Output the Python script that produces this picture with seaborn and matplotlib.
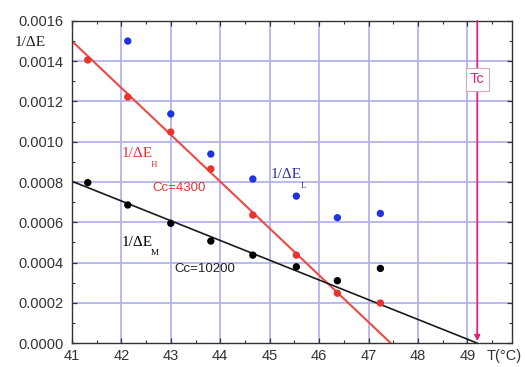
import numpy as np
import pandas as pd
import matplotlib
matplotlib.use("Agg")
import matplotlib.pyplot as plt
from matplotlib.ticker import MultipleLocator, FormatStrFormatter
import seaborn as sns

# Temperature of each measurement (°C)
temperature = [41.32, 42.13, 43.0, 43.81, 44.66, 45.54, 46.37, 47.24]

# Inverse dielectric peaks for the three modes
inv_eps_H = [0.001406, 0.001222, 0.001048, 0.000865, 0.000636, 0.000437, 0.000248, 0.000199]
inv_eps_M = [0.000797, 0.000686, 0.000595, 0.000507, 0.000437, 0.000379, 0.000310, 0.000371]
inv_eps_L = [None, 0.001500, 0.001138, 0.000939, 0.000815, 0.000730, 0.000623, 0.000644]

# Curie-Weiss fits: 1/eps = (T0 - T) / Cc
curie_H = 4300
t0_H = 47.45
curie_M = 10200
t0_M = 49.2
fit_start = 41.0

# Transition temperature
tc = 49.2

sns.set_style("ticks")
plt.rcParams["font.family"] = ["Liberation Sans", "DejaVu Sans"]

fig = plt.figure(figsize=(5.25, 3.67), dpi=100)
ax = fig.add_axes([0.137, 0.065, 0.838, 0.878])

grid_color = "#b4b4ee"
for gx in range(42, 50):
    ax.axvline(gx, color=grid_color, lw=1.3, zorder=0)
for gy in np.arange(0.0002, 0.0016, 0.0002):
    ax.axhline(gy, color=grid_color, lw=1.3, zorder=0)

df = pd.DataFrame({"T": temperature, "H": inv_eps_H, "M": inv_eps_M, "L": inv_eps_L})

fit_H = pd.DataFrame({"T": [fit_start, t0_H],
                      "y": [(t0_H - fit_start) / curie_H, 0.0]})
fit_M = pd.DataFrame({"T": [fit_start, t0_M],
                      "y": [(t0_M - fit_start) / curie_M, 0.0]})

red = "#e8332e"
sns.lineplot(data=fit_H, x="T", y="y", color="#ee4a44", lw=1.5, ax=ax, zorder=2)
sns.lineplot(data=fit_M, x="T", y="y", color="#1a1a1a", lw=1.2, ax=ax, zorder=2)

sns.scatterplot(data=df, x="T", y="H", color=red, s=28, edgecolor="none", ax=ax, zorder=3)
sns.scatterplot(data=df, x="T", y="M", color="black", s=28, edgecolor="none", ax=ax, zorder=3)
sns.scatterplot(data=df.dropna(), x="T", y="L", color="#2233dd", s=28, edgecolor="none",
                ax=ax, zorder=3)

# Tc marker: vertical arrow down to the axis
pink = "#e0207a"
ax.annotate("", xy=(tc, 0.00001), xytext=(tc, 0.0016),
            arrowprops=dict(arrowstyle="-|>", color=pink, lw=1.3,
                            mutation_scale=8, shrinkA=0, shrinkB=0), zorder=4)
ax.text(tc, 0.00131, "Tc", color=pink, fontsize=10.5, ha="center", va="center",
        bbox=dict(boxstyle="square,pad=0.3", fc="white", ec="#d8a8b8", lw=0.8), zorder=5)

serif = ["Liberation Serif", "DejaVu Serif"]
ax.text(42.0, 0.00094, "1/ΔE", color=red, fontsize=11, family=serif, va="center")
ax.text(42.6, 0.000905, "H", color=red, fontsize=6.5, family=serif, va="top")
ax.text(42.62, 0.00077, "Cc=4300", color=red, fontsize=9.5, va="center")

ax.text(45.02, 0.000835, "1/ΔE", color="#3030b0", fontsize=11, family=serif, va="center")
ax.text(45.62, 0.0008, "L", color="#3030b0", fontsize=6.5, family=serif, va="top")

ax.text(42.0, 0.0005, "1/ΔE", color="black", fontsize=11, family=serif, va="center")
ax.text(42.6, 0.000465, "M", color="black", fontsize=6.5, family=serif, va="top")
ax.text(43.08, 0.000368, "Cc=10200", color="#222222", fontsize=9.5, va="center")

ax.set_xlim(41, 49.9)
ax.set_ylim(0, 0.0016)
ax.set_xlabel("")
ax.set_ylabel("")
ax.xaxis.set_major_locator(MultipleLocator(1))
ax.xaxis.set_minor_locator(MultipleLocator(0.5))
ax.yaxis.set_major_locator(MultipleLocator(0.0002))
ax.yaxis.set_minor_locator(MultipleLocator(0.0001))
ax.yaxis.set_major_formatter(FormatStrFormatter("%.4f"))
ax.set_xticks(range(41, 50))
ax.tick_params(which="both", direction="in", top=True, right=True,
               labelsize=10.5, colors="#333333")
ax.tick_params(axis="x", pad=4)
ax.tick_params(axis="y", pad=6)
ax.tick_params(which="major", length=3.5, width=0.9)
ax.tick_params(which="minor", length=2, width=0.8)
for sp in ax.spines.values():
    sp.set_color("#333333")
    sp.set_linewidth(1.0)

fig.text(15 / 525, 1 - 42 / 367, "1/ΔE", fontsize=11, family=serif,
         va="center", ha="left", color="#222222")
ax.text(49.38, -0.04, "T(°C)", fontsize=10.5, ha="left", va="center",
        color="#333333", transform=ax.get_xaxis_transform(), clip_on=False)

fig.savefig("out.png", dpi=100, facecolor="white")
